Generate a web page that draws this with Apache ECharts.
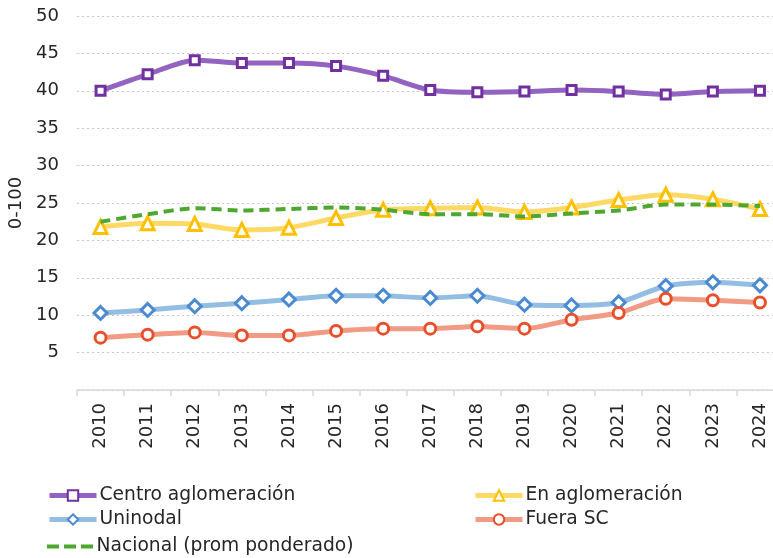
<!DOCTYPE html>
<html>
<head>
<meta charset="utf-8">
<script src="https://cdn.jsdelivr.net/npm/echarts@6/dist/echarts.min.js"></script>
<style>
html,body{margin:0;padding:0;background:#fff;}
#main{width:773px;height:558px;}
</style>
</head>
<body>
<div id="main"></div>
<script>
var years = ['2010','2011','2012','2013','2014','2015','2016','2017','2018','2019','2020','2021','2022','2023','2024'];
var centro = [40.0, 42.2, 44.1, 43.7, 43.7, 43.3, 42.0, 40.1, 39.8, 39.9, 40.1, 39.9, 39.5, 39.9, 40.0];
var enAglo = [21.8, 22.3, 22.2, 21.4, 21.7, 23.0, 24.1, 24.3, 24.4, 23.8, 24.4, 25.4, 26.1, 25.5, 24.2];
var uninodal = [10.3, 10.7, 11.2, 11.6, 12.1, 12.6, 12.6, 12.3, 12.6, 11.4, 11.3, 11.7, 13.9, 14.4, 14.0];
var fuera = [7.0, 7.4, 7.7, 7.3, 7.3, 7.9, 8.2, 8.2, 8.5, 8.2, 9.4, 10.3, 12.2, 12.0, 11.7];
var nacional = [22.5, 23.5, 24.3, 24.0, 24.2, 24.4, 24.1, 23.5, 23.5, 23.2, 23.6, 24.0, 24.8, 24.8, 24.6];
var yTicks = {min: 0, max: 50, interval: 5};
var names = ['Centro aglomeración', 'En aglomeración', 'Uninodal', 'Fuera SC', 'Nacional (prom ponderado)'];

var FONT = 'DejaVu Sans';
var TXT = '#262626';
var chart = echarts.init(document.getElementById('main'), null, {renderer: 'canvas'});

function lineSeries(name, data, lineColor, markColor, symbol, size) {
  return {
    name: name, type: 'line', data: data, smooth: 0.25,
    symbol: symbol, symbolSize: size, showSymbol: true,
    lineStyle: {color: lineColor, width: 5},
    itemStyle: {color: '#ffffff', borderColor: markColor, borderWidth: 3},
    emphasis: {disabled: true}, z: 3
  };
}

function leg(name, left, top, extra) {
  var o = {
    data: [name], left: left, top: top, itemWidth: 47, itemHeight: 13, itemGap: 4,
    lineStyle: {width: 5},
    textStyle: {fontFamily: FONT, fontSize: 18.7, color: TXT, padding: [0, 0, 0, -2]},
    padding: 0
  };
  if (extra) { for (var k in extra) o[k] = extra[k]; }
  return o;
}

var option = {
  backgroundColor: '#ffffff',
  animation: false,
  grid: {left: 77, width: 706.5, top: 16, height: 374, outerBoundsMode: 'none', containLabel: false},
  legend: [
    leg(names[0], 47, 486),
    leg(names[1], 473, 486),
    leg(names[2], 47, 510),
    leg(names[3], 473, 510),
    leg(names[4], 47, 537, {
      data: [{name: names[4], icon: 'path://M0,0h12v4h-12z M17,0h12v4h-12z M34,0h12v4h-12z'}],
      itemHeight: 4,
      itemStyle: {color: '#4ea72e', borderWidth: 0}
    })
  ],
  xAxis: {
    type: 'category', data: years, boundaryGap: true,
    axisLine: {lineStyle: {color: '#d9d9d9', width: 1.5}},
    axisTick: {show: true, length: 6, lineStyle: {color: '#d9d9d9', width: 1.5}},
    axisLabel: {rotate: 90, margin: 13, fontFamily: FONT, fontSize: 18, color: TXT, interval: 0},
    splitLine: {show: false}
  },
  yAxis: {
    type: 'value', min: yTicks.min, max: yTicks.max, interval: yTicks.interval,
    name: '0-100', nameLocation: 'middle', nameGap: 44, nameRotate: 90,
    nameTextStyle: {fontFamily: FONT, fontSize: 18, color: TXT},
    axisLine: {show: false}, axisTick: {show: false},
    axisLabel: {showMinLabel: false, margin: 18, fontFamily: FONT, fontSize: 18, color: TXT},
    splitLine: {lineStyle: {color: '#c8c8c8', type: [2, 3], width: 1.2}}
  },
  series: [
    lineSeries(names[0], centro, '#9263c1', '#7030a0', 'rect', 9),
    lineSeries(names[1], enAglo, '#ffd966', '#ffc000', 'triangle', 13),
    lineSeries(names[2], uninodal, '#93bde3', '#4a8ad0', 'diamond', 13),
    lineSeries(names[3], fuera, '#f19a84', '#e8502c', 'circle', 11),
    {
      name: names[4], type: 'line', data: nacional, smooth: 0.25,
      symbol: 'none', showSymbol: false,
      lineStyle: {color: '#4ea72e', width: 4, type: [10, 6]},
      itemStyle: {color: '#4ea72e'},
      emphasis: {disabled: true}, z: 4
    }
  ]
};
chart.setOption(option);
</script>
</body>
</html>
